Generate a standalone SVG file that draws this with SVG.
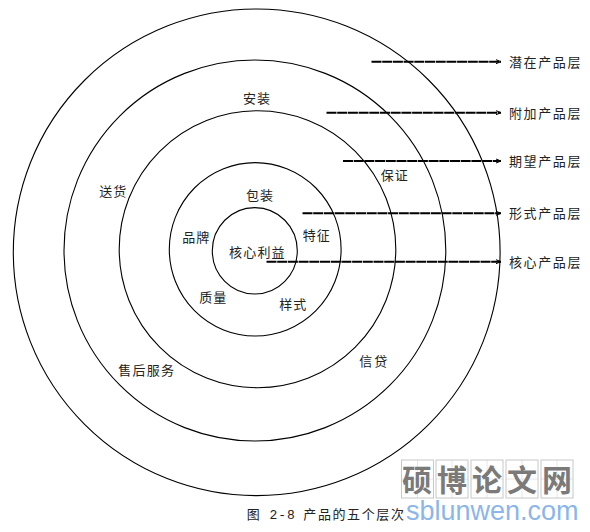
<svg xmlns="http://www.w3.org/2000/svg" width="590" height="532" viewBox="0 0 590 532">
<style>
.ring{fill:none;stroke:#000;stroke-width:1.1}
.lbl{font-family:"Noto Sans CJK SC","Noto Sans",sans-serif;font-size:13px;fill:#222;letter-spacing:1px}
.lay{font-family:"Noto Sans CJK SC","Noto Sans",sans-serif;font-size:13px;fill:#222;letter-spacing:1.6px}
.arr{stroke:#000;stroke-width:2;stroke-dasharray:10 0.7;fill:none;marker-end:url(#ah)}
.wm{font-family:"Noto Sans CJK SC",sans-serif;font-size:30px;font-weight:bold;fill:#7a7a7a}
.box{fill:none;stroke:#c8c8c8;stroke-width:1}
.grid{stroke:#e0e0e0;stroke-width:0.8}
</style>
<defs>
<marker id="ah" markerWidth="8" markerHeight="8" refX="6" refY="4" orient="auto" markerUnits="userSpaceOnUse">
<path d="M1,2 L6,4 L1,6" fill="none" stroke="#000" stroke-width="1"/>
</marker>
</defs>
<rect width="590" height="532" fill="#fff"/>
<g id="rings">
<g id="ring-potential"><ellipse class="ring" cx="256.7" cy="252.3" rx="243.4" ry="243.3"/></g>
<g id="ring-augmented"><ellipse class="ring" cx="254.9" cy="250.5" rx="190.9" ry="190.5"/></g>
<g id="ring-expected"><ellipse class="ring" cx="257.5" cy="249.2" rx="138.3" ry="138.5"/></g>
<g id="ring-formal"><ellipse class="ring" cx="255.2" cy="249.3" rx="85.9" ry="86.7"/></g>
<g id="ring-core"><ellipse class="ring" cx="254.8" cy="250.8" rx="42.5" ry="43.2"/></g>
</g>
<g id="connectors">
<line class="arr" x1="371.5" y1="61.7" x2="501" y2="61.7"/>
<line class="arr" x1="326.5" y1="112.7" x2="501" y2="112.7"/>
<line class="arr" x1="343" y1="161" x2="501" y2="161"/>
<line class="arr" x1="302.5" y1="213.3" x2="501" y2="213.3"/>
<line class="arr" x1="266.5" y1="261.7" x2="501" y2="261.7"/>
</g>
<g id="layer-labels">
<g id="lbl-potential"><text class="lay" x="509" y="66.7">潜在产品层</text></g>
<g id="lbl-augmented"><text class="lay" x="509" y="117.7">附加产品层</text></g>
<g id="lbl-expected"><text class="lay" x="509" y="166">期望产品层</text></g>
<g id="lbl-formal"><text class="lay" x="509" y="218.3">形式产品层</text></g>
<g id="lbl-core"><text class="lay" x="509" y="266.7">核心产品层</text></g>
</g>
<g id="items">
<g id="n-anzhuang"><text class="lbl" x="243" y="103">安装</text></g>
<g id="n-songhuo"><text class="lbl" x="99.3" y="195.7">送货</text></g>
<g id="n-baozhuang"><text class="lbl" x="246" y="200">包装</text></g>
<g id="n-baozheng"><text class="lbl" x="380.7" y="180">保证</text></g>
<g id="n-pinpai"><text class="lbl" x="182.3" y="242.3">品牌</text></g>
<g id="n-hexin"><text class="lbl" x="229" y="257.3" style="letter-spacing:1.2px">核心利益</text></g>
<g id="n-tezheng"><text class="lbl" x="302.7" y="240">特征</text></g>
<g id="n-zhiliang"><text class="lbl" x="199.3" y="301.7">质量</text></g>
<g id="n-yangshi"><text class="lbl" x="279.3" y="309.3">样式</text></g>
<g id="n-shouhou"><text class="lbl" x="118.3" y="375" style="letter-spacing:1.2px">售后服务</text></g>
<g id="n-xindai"><text class="lbl" x="359.3" y="365.7" style="letter-spacing:2px">信贷</text></g>
</g>
<g id="caption">
<text class="lbl" x="246.7" y="519" style="font-family:'Liberation Mono','Noto Sans CJK SC',monospace">图 2-8</text>
<text class="lay" x="303.3" y="519">产品的五个层次</text>
</g>
<g id="watermark">
<path class="grid" d="M417.5,460V498M401.5,479H433.5M452,460V498M436,479H468M487,460V498M471,479H503M522,460V498M506,479H538M557,460V498M541,479H573"/>
<rect class="box" x="401.5" y="460" width="32" height="38"/>
<rect class="box" x="436" y="460" width="32" height="38"/>
<rect class="box" x="471" y="460" width="32" height="38"/>
<rect class="box" x="506" y="460" width="32" height="38"/>
<rect class="box" x="541" y="460" width="32" height="38"/>
<text class="wm" x="402" y="491">硕</text>
<text class="wm" x="437" y="491">博</text>
<text class="wm" x="472" y="491">论</text>
<text class="wm" x="507" y="491">文</text>
<text class="wm" x="542" y="491">网</text>
<text x="406" y="520" style="font-family:'Liberation Sans',Arial,sans-serif;font-size:27px;fill:#8cb6ea">sblunwen.com</text>
</g>
</svg>
